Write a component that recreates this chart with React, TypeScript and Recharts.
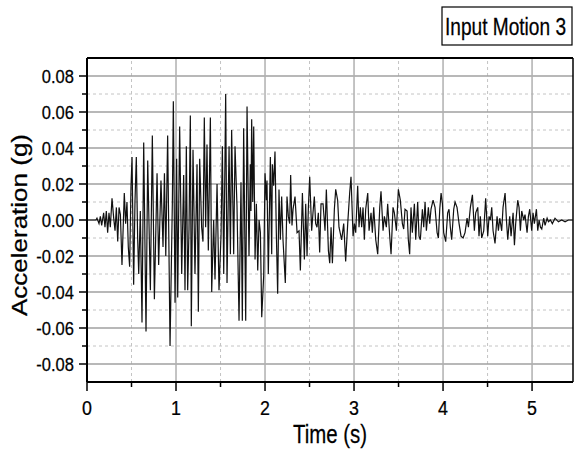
import React from 'react';
import { LineChart, Line, XAxis, YAxis, ReferenceLine } from 'recharts';

// ---- data (time in s, acceleration in g), read from the record ----
const ONSET_T = [0, 0.100, 0.112, 0.135, 0.150, 0.165, 0.187, 0.202, 0.217, 0.232,
  0.247, 0.262, 0.281, 0.300, 0.315, 0.330, 0.345, 0.360, 0.375, 0.393,
  0.419, 0.434, 0.449, 0.464, 0.479, 0.494, 0.506, 0.524, 0.539, 0.554,
  0.569, 0.581, 0.599, 0.618, 0.637, 0.663, 0.682, 0.712, 0.734, 0.757,
  0.787, 0.805, 0.831, 0.854];
const ONSET_A = [0, 0, 0.001, -0.002, 0.002, -0.003, 0.004, -0.004, 0.005, -0.007,
  0.004, -0.004, 0.012, 0.001, -0.006, 0.007, -0.012, 0.007, 0.003, -0.025,
  0.015, -0.002, 0.010, -0.015, -0.026, 0.018, 0.035, -0.036, 0.010, 0.035,
  -0.010, -0.030, 0.005, -0.057, 0.043, -0.062, 0.033, -0.039, 0.047, -0.044,
  0.026, -0.025, 0.022, -0.015];

const STRONG_T = [0.870, 0.885, 0.906, 0.933, 0.959, 0.970, 0.989, 1.007, 1.019, 1.041,
  1.064, 1.086, 1.101, 1.116, 1.131, 1.146, 1.161, 1.172, 1.191, 1.213,
  1.236, 1.251, 1.266, 1.288, 1.303, 1.318, 1.333, 1.348, 1.363, 1.386,
  1.401, 1.423, 1.438, 1.461, 1.483, 1.506, 1.521, 1.536, 1.558, 1.573,
  1.596, 1.611, 1.625, 1.648, 1.663, 1.685, 1.708, 1.730, 1.745, 1.760];
const STRONG_A = [0.026, -0.020, 0.047, -0.070, 0.010, 0.066, -0.046, 0.034, -0.043, 0.052,
  -0.030, 0.025, -0.039, 0.041, -0.039, -0.005, 0.058, -0.059, 0.039, -0.030,
  0.031, -0.051, 0.034, -0.004, -0.012, 0.057, -0.004, 0.042, -0.017, 0.057,
  -0.040, 0.000, -0.033, 0.020, -0.039, -0.008, 0.041, -0.030, 0.070, -0.035,
  0.041, -0.019, 0.050, -0.019, 0.041, 0.008, -0.056, 0.021, -0.056, 0.051];

const DECAY_T = [1.783, 1.798, 1.820, 1.835, 1.842, 1.850, 1.862, 1.873, 1.888, 1.903,
  1.918, 1.933, 1.948, 1.963, 1.985, 2.000, 2.015, 2.022, 2.037, 2.060,
  2.075, 2.082, 2.097, 2.112, 2.127, 2.142, 2.157, 2.172, 2.187, 2.202,
  2.228, 2.247, 2.262, 2.277, 2.288, 2.303, 2.315, 2.337, 2.360, 2.382,
  2.397, 2.420, 2.442, 2.457, 2.472, 2.487, 2.502, 2.524, 2.539, 2.554,
  2.569, 2.584, 2.599, 2.614, 2.629];
const DECAY_A = [-0.056, 0.063, -0.020, 0.031, 0.005, 0.056, 0.010, 0.052, -0.022, 0.009,
  -0.028, 0.000, -0.007, -0.054, -0.031, 0.026, 0.011, 0.022, -0.030, 0.035,
  -0.019, 0.031, 0.019, 0.038, -0.007, -0.041, 0.017, -0.011, 0.013, -0.011,
  -0.035, 0.013, 0.002, -0.002, 0.025, -0.003, 0.006, 0.013, -0.007, -0.006,
  -0.028, 0.015, -0.022, 0.009, -0.020, 0.007, 0.024, -0.006, 0.004, 0.013,
  -0.002, -0.004, 0.004, -0.018, 0.009];

const MID_T = [2.652, 2.674, 2.689, 2.712, 2.727, 2.742, 2.757, 2.779, 2.794, 2.816,
  2.831, 2.861, 2.884, 2.906, 2.929, 2.951, 2.966, 2.989, 3.004, 3.019,
  3.041, 3.056, 3.071, 3.086, 3.101, 3.116, 3.131, 3.154, 3.169, 3.191,
  3.206, 3.221, 3.244, 3.266, 3.289, 3.303, 3.326, 3.341, 3.363, 3.378,
  3.401, 3.416, 3.438, 3.453, 3.476, 3.498, 3.520, 3.543, 3.558, 3.573,
  3.596, 3.610, 3.625];
const MID_A = [0.009, -0.006, 0.017, -0.017, -0.024, -0.004, -0.024, 0.006, 0.017, 0.011,
  -0.004, -0.011, -0.002, -0.023, -0.002, 0.015, 0.024, -0.009, -0.002, -0.007,
  0.019, -0.004, 0.007, -0.004, 0.007, -0.011, 0.006, 0.015, -0.006, 0.004,
  -0.007, 0.007, -0.011, -0.019, 0.007, 0.016, -0.006, 0.002, -0.004, 0.009,
  -0.009, -0.019, 0.007, 0.004, -0.006, 0.017, 0.011, -0.002, -0.005, 0.006,
  0.005, -0.011, -0.019];

const LATE_T = [3.640, 3.655, 3.678, 3.693, 3.715, 3.730, 3.745, 3.768, 3.783, 3.798,
  3.813, 3.835, 3.850, 3.865, 3.888, 3.910, 3.933, 3.948, 3.963, 3.978,
  3.993, 4.007, 4.030, 4.052, 4.067, 4.082, 4.097, 4.120, 4.135, 4.157,
  4.180, 4.202, 4.225, 4.247, 4.270, 4.285, 4.307, 4.330, 4.352, 4.367,
  4.390, 4.404, 4.419, 4.434, 4.457, 4.479, 4.502, 4.517, 4.532, 4.547,
  4.562, 4.584];
const LATE_A = [0.007, -0.007, 0.009, -0.011, 0.010, -0.009, -0.011, 0.006, -0.004, 0.010,
  -0.006, 0.007, -0.002, 0.006, 0.011, 0.007, -0.007, -0.010, 0.006, 0.015,
  0.009, -0.007, -0.012, 0.004, 0.006, -0.004, -0.011, 0.006, 0.010, 0.007,
  -0.002, -0.009, -0.010, -0.007, 0.001, -0.004, 0.007, 0.014, -0.006, 0.004,
  0.007, -0.009, 0.002, -0.010, -0.006, 0.012, -0.009, 0.002, 0.000, 0.007,
  -0.006, -0.013];

const TAIL_T = [4.607, 4.622, 4.637, 4.659, 4.674, 4.697, 4.712, 4.727, 4.749, 4.764,
  4.787, 4.802, 4.816, 4.839, 4.854, 4.869, 4.884, 4.906, 4.921, 4.944,
  4.959, 4.974, 4.996, 5.011, 5.026, 5.049, 5.064, 5.079, 5.094, 5.109,
  5.131, 5.146, 5.169, 5.184, 5.206, 5.228, 5.258, 5.296, 5.333, 5.371,
  5.408, 5.460];
const TAIL_A = [0.002, -0.006, 0.001, -0.006, 0.007, 0.015, 0.000, -0.011, 0.002, -0.009,
  0.004, -0.014, -0.002, 0.011, 0.007, -0.006, 0.005, 0.000, 0.003, -0.007,
  0.002, 0.006, -0.006, 0.004, -0.002, 0.006, -0.006, 0.000, -0.004, -0.005,
  0.001, -0.003, 0.001, -0.001, 0.000, -0.002, 0.001, -0.001, 0.000, -0.001,
  0.000, 0.000];

const X_MAJOR = [0, 1, 2, 3, 4, 5];
const X_MINOR = [0.5, 1.5, 2.5, 3.5, 4.5];
const Y_MAJOR = [-0.08, -0.06, -0.04, -0.02, 0, 0.02, 0.04, 0.06, 0.08];
const Y_MINOR = [-0.07, -0.05, -0.03, -0.01, 0.01, 0.03, 0.05, 0.07];
const X_DOMAIN: [number, number] = [0, 5.46];
const Y_DOMAIN: [number, number] = [-0.09, 0.09];

const TITLE = 'Input Motion 3';
const X_LABEL = 'Time (s)';
const Y_LABEL = 'Acceleration (g)';

const SEGMENTS: [number[], number[]][] = [
  [ONSET_T, ONSET_A], [STRONG_T, STRONG_A], [DECAY_T, DECAY_A],
  [MID_T, MID_A], [LATE_T, LATE_A], [TAIL_T, TAIL_A],
];
const data = SEGMENTS.flatMap(([ts, as]) => ts.map((t, i) => ({ t, a: as[i] })));

const FONT = '"Liberation Sans", Arial, sans-serif';

const YTick = (props: any) => {
  const { x, y, payload } = props;
  const v = payload.value as number;
  const major = Math.round(Math.abs(v) * 100) % 2 === 0;
  return (
    <g>
      <line x1={x - (major ? 8 : 5)} x2={x} y1={y} y2={y} stroke="#000" strokeWidth={1.5} />
      {major && (
        <text transform={`translate(${x - 13},${y + 7}) scale(0.87,1)`} textAnchor="end"
          fontFamily={FONT} fontSize={19} fill="#000" stroke="#000" strokeWidth={0.25}>{v.toFixed(2)}</text>
      )}
    </g>
  );
};

const XTick = (props: any) => {
  const { x, y, payload } = props;
  const v = payload.value as number;
  const major = Number.isInteger(v);
  return (
    <g>
      <line x1={x} x2={x} y1={y} y2={y + (major ? 9 : 5)} stroke="#000" strokeWidth={1.5} />
      {major && (
        <text transform={`translate(${x},${y + 33}) scale(0.85,1)`} textAnchor="middle"
          fontFamily={FONT} fontSize={21} fill="#000" stroke="#000" strokeWidth={0.25}>{String(v)}</text>
      )}
    </g>
  );
};

export default function App() {
  return (
    <div style={{ position: 'absolute', left: 0, top: 0, width: 574, height: 455, background: '#fff' }}>
      <LineChart width={574} height={455} data={data} margin={{ top: 58, right: 1, bottom: 0, left: 0 }}>
        <XAxis dataKey="t" type="number" domain={X_DOMAIN} ticks={[...X_MAJOR, ...X_MINOR].sort((a, b) => a - b)}
          interval={0} allowDataOverflow height={73} tickSize={0} tickMargin={0} tickLine={false}
          tick={<XTick />} axisLine={{ stroke: '#000', strokeWidth: 2 }} />
        <YAxis type="number" domain={Y_DOMAIN} ticks={[...Y_MAJOR, ...Y_MINOR].sort((a, b) => a - b)}
          interval={0} allowDataOverflow width={87} tickSize={0} tickMargin={0} tickLine={false}
          tick={<YTick />} axisLine={{ stroke: '#000', strokeWidth: 2 }} />
        {Y_MINOR.map((v) => (
          <ReferenceLine key={'ym' + v} y={v} stroke="#c4c4c4" strokeWidth={1} strokeDasharray="3 3" />
        ))}
        {X_MINOR.map((v) => (
          <ReferenceLine key={'xm' + v} x={v} stroke="#c4c4c4" strokeWidth={1} strokeDasharray="3 3" />
        ))}
        {Y_MAJOR.map((v) => (
          <ReferenceLine key={'yM' + v} y={v} stroke="#a0a0a0" strokeWidth={1.3} />
        ))}
        {X_MAJOR.filter((v) => v > 0).map((v) => (
          <ReferenceLine key={'xM' + v} x={v} stroke="#b0b0b0" strokeWidth={1.5} />
        ))}
        <ReferenceLine y={Y_DOMAIN[1]} stroke="#000" strokeWidth={2} />
        <ReferenceLine x={X_DOMAIN[1]} stroke="#000" strokeWidth={1.5} />
        <Line type="linear" dataKey="a" stroke="#111" strokeWidth={1.2} dot={false} isAnimationActive={false} />
      </LineChart>
      <svg width={574} height={455} style={{ position: 'absolute', left: 0, top: 0, pointerEvents: 'none' }}>
        <rect x={442} y={7} width={130} height={38} fill="#fff" stroke="#000" strokeWidth={1.2} />
        <text transform="translate(445,35) scale(0.82,1)" fontFamily={FONT} fontSize={23.3} fill="#000" stroke="#000" strokeWidth={0.25}>{TITLE}</text>
        <text transform="translate(330,443) scale(0.8,1)" textAnchor="middle" fontFamily={FONT} fontSize={25.5} fill="#000" stroke="#000" strokeWidth={0.25}>{X_LABEL}</text>
        <text transform="translate(27,225) rotate(-90) scale(1,0.82)" textAnchor="middle" fontFamily={FONT} fontSize={26} fill="#000" stroke="#000" strokeWidth={0.3}>{Y_LABEL}</text>
      </svg>
    </div>
  );
}
